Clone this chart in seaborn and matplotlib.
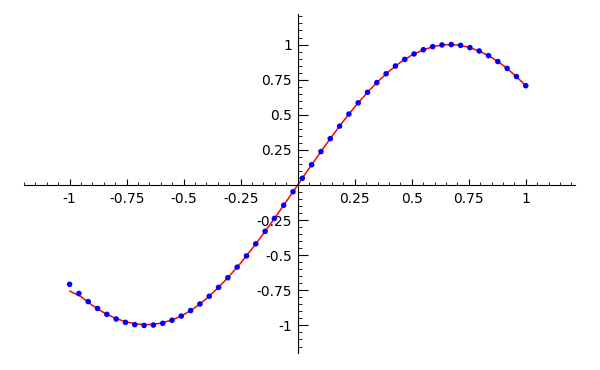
import numpy as np
import pandas as pd
import matplotlib
matplotlib.use("Agg")
import matplotlib.pyplot as plt
import seaborn as sns
from matplotlib.ticker import MultipleLocator, FixedLocator

sns.set_theme(style="white")
plt.rcParams['font.family'] = ['DejaVu Sans']
plt.rcParams['axes.unicode_minus'] = False

# Dot samples (50 equally spaced x values from -1 to 1)
pos_half = [0.048, 0.144, 0.238, 0.330, 0.419, 0.505, 0.585, 0.660, 0.729,
            0.792, 0.847, 0.894, 0.933, 0.963, 0.985, 0.997, 1.000, 0.994,
            0.978, 0.954, 0.921, 0.879, 0.830, 0.772, 0.707]
dot_x = list(np.linspace(-1, 1, 50))
dot_y = [-v for v in pos_half[::-1]] + pos_half

# Red curve
line_x = [round(-1 + 0.05 * i, 2) for i in range(41)]
line_y = [-0.755, -0.795, -0.857, -0.909, -0.949, -0.976, -0.991, -0.994,
          -0.984, -0.961, -0.924, -0.873, -0.809, -0.734, -0.649, -0.556,
          -0.454, -0.346, -0.233, -0.118, 0.0,
          0.118, 0.233, 0.346, 0.454, 0.556, 0.649, 0.734, 0.809, 0.873,
          0.924, 0.962, 0.988, 0.999, 0.997, 0.981, 0.951, 0.908, 0.853,
          0.785, 0.707]

x_ticks = [-1, -0.75, -0.5, -0.25, 0.25, 0.5, 0.75, 1]
x_tick_labels = ["-1", "-0.75", "-0.5", "-0.25", "0.25", "0.5", "0.75", "1"]
y_ticks = [-1, -0.75, -0.5, -0.25, 0.25, 0.5, 0.75, 1]
y_tick_labels = ["-1", "-0.75", "-0.5", "-0.25", "0.25", "0.5", "0.75", "1"]

dots = pd.DataFrame({"x": dot_x, "y": dot_y})
curve = pd.DataFrame({"x": line_x, "y": line_y})

fig = plt.figure(figsize=(6, 3.7), dpi=100)
ax = fig.add_axes([0.04, 0.046, 0.918, 0.916])
ax.set_facecolor("white")

sns.lineplot(data=curve, x="x", y="y", color="red", linewidth=1.1, ax=ax, zorder=2)
sns.scatterplot(data=dots, x="x", y="y", color="blue", s=16, edgecolor="none",
                linewidth=0, ax=ax, zorder=3)

ax.set_xlim(-1.2, 1.215)
ax.set_ylim(-1.196, 1.217)

for s in ["top", "right"]:
    ax.spines[s].set_visible(False)
ax.spines["left"].set_position(("data", 0))
ax.spines["bottom"].set_position(("data", 0))
for s in ["left", "bottom"]:
    ax.spines[s].set_color("black")
    ax.spines[s].set_linewidth(0.8)

ax.xaxis.set_major_locator(FixedLocator(x_ticks))
ax.set_xticklabels(x_tick_labels)
ax.yaxis.set_major_locator(FixedLocator(y_ticks))
ax.set_yticklabels(y_tick_labels)
ax.xaxis.set_minor_locator(MultipleLocator(0.05))
ax.yaxis.set_minor_locator(MultipleLocator(0.05))

ax.tick_params(axis="x", which="major", direction="in", length=4, width=0.8,
               colors="black", labelsize=10, pad=5, bottom=True)
ax.tick_params(axis="x", which="minor", direction="in", length=2, width=0.6,
               colors="black", bottom=True)
ax.tick_params(axis="y", which="major", direction="in", length=7, width=0.8,
               colors="black", labelsize=10, pad=4, left=True)
ax.tick_params(axis="y", which="minor", direction="in", length=3, width=0.6,
               colors="black", left=True)

ax.set_xlabel("")
ax.set_ylabel("")
ax.grid(False)

fig.savefig("out.png", dpi=100, facecolor="white")
